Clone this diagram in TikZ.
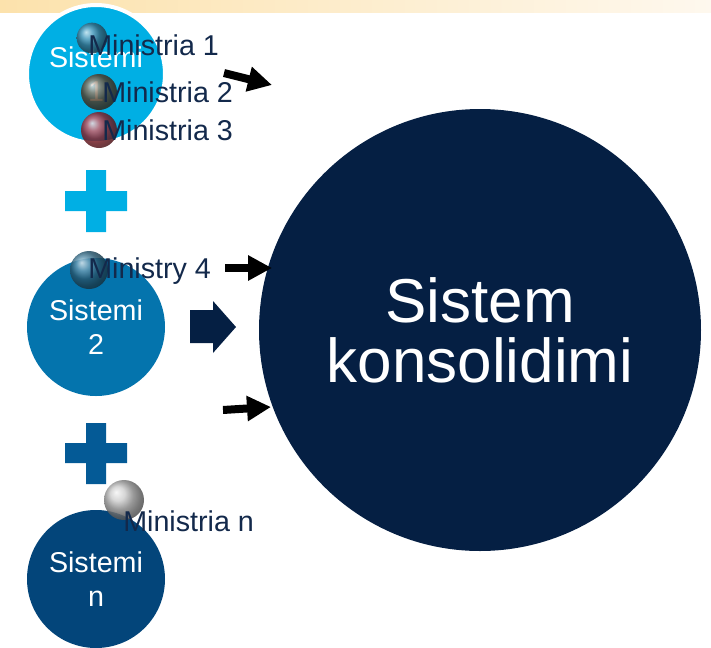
\documentclass[tikz,border=0pt]{standalone}
\usepackage{fontspec}
\setmainfont{Liberation Sans}
\usepackage{xcolor}
\usepackage{tikz}
\usetikzlibrary{shapes,arrows.meta,positioning,calc}

\definecolor{bandl}{HTML}{FCE2AC}
\definecolor{bandr}{HTML}{FEF8EE}
\definecolor{sysa}{HTML}{00AFE4}
\definecolor{sysb}{HTML}{0474AD}
\definecolor{sysn}{HTML}{03457A}
\definecolor{plusb}{HTML}{045A96}
\definecolor{cons}{HTML}{051F43}
\definecolor{mintext}{HTML}{13294B}
\definecolor{balla}{HTML}{4A8FB0}

\begin{document}
\begin{tikzpicture}[
		x=0.75pt,
		y=-0.75pt,
		sysnode/.style={circle, inner sep=0pt, minimum size=103.5pt, text=white, align=center,
			font=\fontsize{21.5}{25}\selectfont},
		ball/.style={circle, inner sep=0pt, fill opacity=0.85},
		mintxt/.style={anchor=base west, inner sep=0pt, text=mintext,
			font=\fontsize{21.5}{25}\selectfont},
		feed/.style={line width=6pt, -{Triangle[length=18pt, width=18pt]}},
	]
	\useasboundingbox (0,0) rectangle (711,647);

	% top band
	\shade[left color=bandl, right color=bandr] (0,0) rectangle (711,12);

	% the three systems
	\node[sysnode, fill=sysa, draw=white, line width=3pt] (sys1) at (96,74) {Sistemi\\1};
	\node[sysnode, fill=sysb] (sys2) at (96,327) {Sistemi\\2};
	\node[sysnode, fill=sysn] (sysn) at (96,579) {Sistemi\\n};

	% plus signs
	\fill[sysa] (86,170) rectangle (106,232) (65,191) rectangle (127,211);
	\fill[plusb] (86,423) rectangle (106,484) (65,443) rectangle (127,463);

	% ministries
	\node[ball, minimum size=23pt, ball color=balla] (b1) at (92,38) {};
	\node[ball, minimum size=27pt, ball color=brown!40!darkgray] (b2) at (99,92) {};
	\node[ball, minimum size=27pt, ball color=purple!60!brown] (b3) at (99,130) {};
	\node[ball, minimum size=28.5pt, ball color=sysb!60!gray] (b4) at (89,270) {};
	\node[ball, minimum size=30pt, ball color=lightgray] (bn) at (124,500) {};

	\node[mintxt] (m1) at (88,55) {Ministria 1};
	\node[mintxt] (m2) at (102,102) {Ministria 2};
	\node[mintxt] (m3) at (102,140) {Ministria 3};
	\node[mintxt] (m4) at (88,278) {Ministry 4};
	\node[mintxt] (mn) at (123,531) {Ministria n};

	% consolidated system
	\node[circle, inner sep=0pt, minimum size=331.5pt, fill=cons, text=white, align=center,
		font=\fontsize{46.5}{45}\selectfont] (cons) at (480,330) {Sistem\\konsolidimi};

	% arrows
	\coordinate (t1) at (224,73);
	\coordinate (h1) at (272,85);
	\coordinate (t4) at (225,268);
	\coordinate (h4) at (272,268);
	\coordinate (t5) at (223,410);
	\coordinate (h5) at (271,407);
	\draw[feed] (t1) -- (h1);
	\draw[feed] (t4) -- (h4);
	\draw[feed] (t5) -- (h5);

	\fill[cons] (190,310) -- (213,310) -- (213,301) -- (236,327) -- (213,353) -- (213,343)
		-- (190,343) -- cycle;

\end{tikzpicture}
\end{document}
